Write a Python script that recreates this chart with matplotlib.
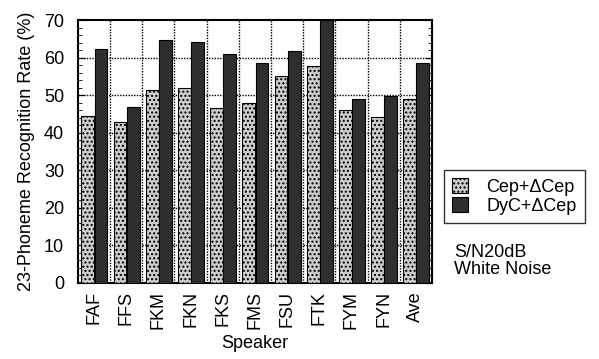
import numpy as np
import matplotlib
matplotlib.use("Agg")
import matplotlib.pyplot as plt
from matplotlib.ticker import MultipleLocator

plt.rcParams['font.family'] = ['Liberation Sans', 'DejaVu Sans']
plt.rcParams['hatch.color'] = '#8f8f8f'

speakers = ["FAF", "FFS", "FKM", "FKN", "FKS", "FMS", "FSU", "FTK", "FYM", "FYN", "Ave"]
cep = [44.4, 42.9, 51.5, 52.0, 46.7, 47.8, 55.2, 57.8, 46.0, 44.3, 49.1]
dyc = [62.2, 46.8, 64.7, 64.2, 61.1, 58.7, 61.8, 70.0, 48.9, 49.8, 58.7]

fs = 13

fig = plt.figure(figsize=(5.99, 3.59), dpi=100)
ax = fig.add_axes([0.130, 0.212, 0.591, 0.732])

x = np.arange(len(speakers)) + 0.5
w = 0.4
ax.bar(x - 0.19, cep, w, color="#cdcdcd", edgecolor="black", linewidth=0.8,
       hatch="....", label="Cep+\u0394Cep", zorder=3)
ax.bar(x + 0.22, dyc, w, color="#2e2e2e", edgecolor="black", linewidth=0.8,
       label="DyC+\u0394Cep", zorder=3)

ax.set_xlim(0, len(speakers))
ax.set_ylim(0, 70)
ax.set_xticks(x)
ax.set_xticklabels(speakers, rotation=90, fontsize=fs)
ax.tick_params(axis='x', length=0, pad=6)
ax.yaxis.set_major_locator(MultipleLocator(10))
ax.yaxis.set_minor_locator(MultipleLocator(2))
ax.tick_params(axis='y', which='both', direction='in', right=True, labelsize=fs, pad=10)
ax.tick_params(axis='y', which='major', length=5)
ax.tick_params(axis='y', which='minor', length=3)

# dotted grid: group boundaries and every 10 %
for b in range(1, len(speakers)):
    ax.axvline(b, color="black", linestyle=(0, (1, 1)), linewidth=1.0, zorder=1)
for yv in range(10, 70, 10):
    ax.axhline(yv, color="black", linestyle=(0, (1, 1)), linewidth=1.0, zorder=1)

for s in ax.spines.values():
    s.set_linewidth(1.5)

ax.set_ylabel("23-Phoneme Recognition Rate (%)", fontsize=fs, labelpad=6)
ax.set_xlabel("Speaker", fontsize=fs, labelpad=4)

fig.legend(loc="upper left", bbox_to_anchor=(0.741, 0.527), borderaxespad=0,
           fontsize=fs, frameon=True, fancybox=False, edgecolor="black",
           handlelength=0.9, handleheight=0.9, borderpad=0.45, labelspacing=0.1,
           handletextpad=1.0)
fig.text(0.758, 0.225, "S/N20dB\nWhite Noise", fontsize=fs, linespacing=1.05,
         va="bottom", ha="left")

fig.savefig("out.png", dpi=100)
